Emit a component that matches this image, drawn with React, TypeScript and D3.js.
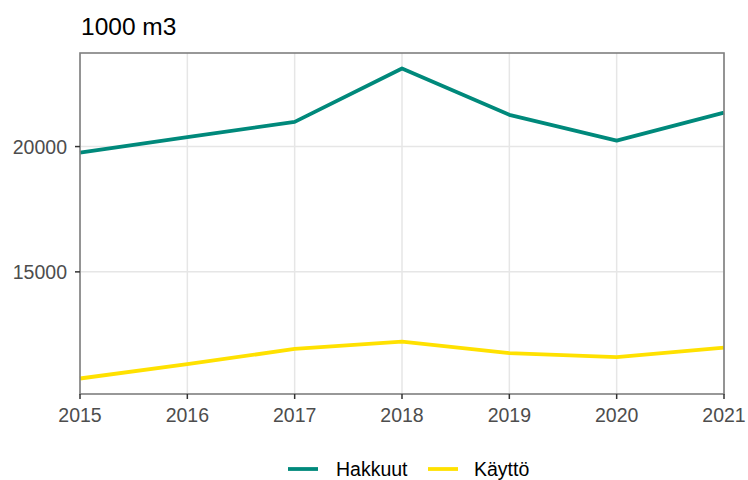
import React from 'react';
import * as d3 from 'd3';

const years = [2015, 2016, 2017, 2018, 2019, 2020, 2021];
const hakkuut = [19760, 20375, 20985, 23115, 21265, 20240, 21355];
const kaytto = [10745, 11315, 11925, 12220, 11755, 11595, 11980];
const yTicks = [15000, 20000];
const seriesNames = ['Hakkuut', 'Käyttö'];
const seriesColors = ['#00897b', '#ffe100'];

const width = 748;
const height = 480;
const margin = { top: 53, right: 24, bottom: 86, left: 80 };

const App: React.FC = () => {
	const x = d3.scaleLinear()
		.domain(d3.extent(years) as [number, number])
		.range([margin.left, width - margin.right]);

	const all = [...hakkuut, ...kaytto];
	const lo = d3.min(all)!;
	const hi = d3.max(all)!;
	const pad = (hi - lo) * 0.05;
	const y = d3.scaleLinear()
		.domain([lo - pad, hi + pad])
		.range([height - margin.bottom, margin.top]);

	const line = d3.line<number>()
		.x((_, i) => x(years[i]))
		.y(d => y(d));

	const series = [hakkuut, kaytto];
	const font = '"Liberation Sans", Arial, sans-serif';
	const x0 = margin.left;
	const x1 = width - margin.right;
	const y0 = margin.top;
	const y1 = height - margin.bottom;

	// legend layout
	const legendY = 469;
	const legend = [
		{ keyX: 288, textX: 336 },
		{ keyX: 428, textX: 474 },
	];

	return (
		<svg width={width} height={height} style={{ position: 'absolute', left: 0, top: 0, fontFamily: font }}>
			<rect width={width} height={height} fill="#fff" />
			<text x={81} y={35} fontSize={24.5} fill="#000">1000 m3</text>

			{years.map(yr => (
				<line key={yr} x1={x(yr)} x2={x(yr)} y1={y0} y2={y1} stroke="#e6e6e6" strokeWidth={1.5} />
			))}
			{yTicks.map(t => (
				<line key={t} x1={x0} x2={x1} y1={y(t)} y2={y(t)} stroke="#e6e6e6" strokeWidth={1.5} />
			))}

			{series.map((s, i) => (
				<path key={i} d={line(s)!} fill="none" stroke={seriesColors[i]} strokeWidth={3.8} strokeLinejoin="round" />
			))}

			<rect x={x0} y={y0} width={x1 - x0} height={y1 - y0} fill="none" stroke="#7f7f7f" strokeWidth={1.6} />

			{yTicks.map(t => (
				<g key={t}>
					<line x1={x0 - 5} x2={x0} y1={y(t)} y2={y(t)} stroke="#333" strokeWidth={1.5} />
					<text x={x0 - 13} y={y(t)} dy="0.36em" textAnchor="end" fontSize={19.5} fill="#4d4d4d">{t}</text>
				</g>
			))}
			{years.map(yr => (
				<g key={yr}>
					<line x1={x(yr)} x2={x(yr)} y1={y1} y2={y1 + 5} stroke="#333" strokeWidth={1.5} />
					<text x={x(yr)} y={y1 + 28} textAnchor="middle" fontSize={19.5} fill="#4d4d4d">{yr}</text>
				</g>
			))}

			{legend.map((l, i) => (
				<g key={i}>
					<line x1={l.keyX} x2={l.keyX + 30} y1={legendY} y2={legendY} stroke={seriesColors[i]} strokeWidth={3.8} />
					<text x={l.textX} y={legendY} dy="0.36em" fontSize={19.5} fill="#000">{seriesNames[i]}</text>
				</g>
			))}
		</svg>
	);
};

export default App;
